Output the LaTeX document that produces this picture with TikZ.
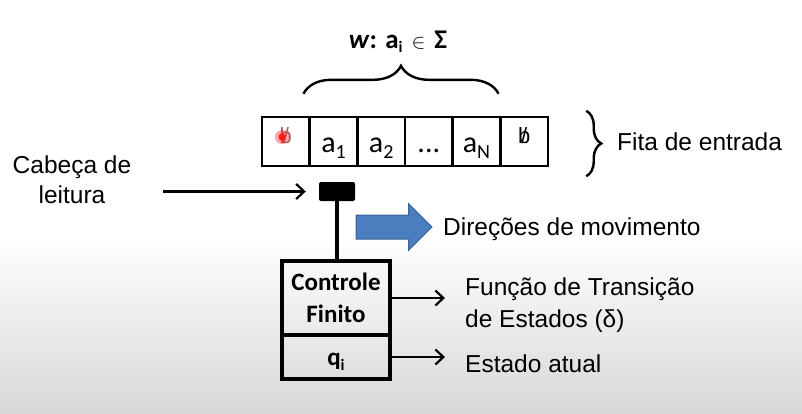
\documentclass[tikz,border=0pt]{standalone}
\usepackage{fontspec}
\setmainfont{Liberation Sans}
\newfontfamily\calfont{Carlito}
\usetikzlibrary{decorations.pathreplacing,shapes.arrows,arrows.meta}
\definecolor{bggray}{RGB}{216,216,216}
\definecolor{arrblue}{RGB}{74,126,190}
\definecolor{arrblueedge}{RGB}{58,98,150}
\definecolor{fadedb}{RGB}{170,100,100}
\newcommand\sbs[1]{\raisebox{-6pt}{\fontsize{20}{20}\selectfont #1}}
\newcommand\blanksym{{\rmfamily\fontsize{22}{22}\selectfont\ooalign{b\cr\hidewidth/\hidewidth\cr}}}
\begin{document}
\begin{tikzpicture}[x=1pt,y=-1pt,
  cell/.style={draw, line width=2.4pt, minimum width=47.7pt, minimum height=49pt, inner sep=0pt,
    text height=21pt, text depth=0pt, font=\calfont\fontsize{30}{30}\selectfont},
  sans/.style={font=\fontsize{24.5}{30}\selectfont, inner sep=0pt, anchor=base west},
  bx/.style={draw, line width=3.3pt, minimum width=108pt, inner sep=0pt},
  bxtxt/.style={font=\calfont\bfseries\fontsize{25}{30}\selectfont, inner sep=0pt, anchor=base},
  arr/.style={line width=2.2pt, -{Straight Barb[length=8pt,width=15pt,line width=2.2pt]}},
  brc/.style={decorate, decoration={brace, amplitude=#1}, line width=2.4pt}
]
\useasboundingbox (0,0) rectangle (802,413);
\fill[white] (0,0) rectangle (802,236);
\shade[top color=white, bottom color=bggray] (0,235) rectangle (802,413);

% tape
\node[cell] (c0) at (285.8,141.5) {\raisebox{9pt}{\color{fadedb}\blanksym}};
\node[cell] (c1) at (333.5,141.5) {a\sbs{1}};
\node[cell] (c2) at (381.2,141.5) {a\sbs{2}};
\node[cell] (c3) at (428.8,141.5) {...};
\node[cell] (c4) at (476.5,141.5) {a\sbs{N}};
\node[cell] (c5) at (524.2,141.5) {\raisebox{9pt}{\blanksym}};
\fill[red, opacity=.35] (282,137) circle (7pt);
\fill[red!90!white] (282,137) circle (3.5pt);

% braces
\draw[brc=28pt] ([xshift=-5pt,yshift=22pt]c1.north west) -- ([xshift=-3pt,yshift=22pt]c4.north east);
\node[font=\calfont\bfseries\fontsize{27}{27}\selectfont, inner sep=0pt, anchor=base] (wlab) at (398,48)
  {\textit{w}: a\raisebox{-4pt}{\fontsize{16}{16}\selectfont i}\hspace{9pt}{\fontsize{22}{22}\selectfont$\in$}\hspace{9pt}Σ};
\draw[brc=15pt] ([xshift=37pt,yshift=5pt]c5.north east) -- ([xshift=37pt,yshift=-9pt]c5.south east);
\node[sans] (fita) at (617,150) {Fita de entrada};

% head
\node[fill=black, rounded corners=2pt, minimum width=36pt, minimum height=19pt, inner sep=0pt] (head) at (337,191.5) {};
\node[sans, anchor=base] (cab1) at (72,173) {Cabeça de};
\node[sans, anchor=base] (cab2) at (72,203) {leitura};
\coordinate (cabtail) at (163,191.5);
\draw[arr, shorten >=13pt] (cabtail) -- (head);

% movement arrow
\node[single arrow, minimum height=76pt, minimum width=46pt, single arrow head extend=11.5pt,
  inner xsep=0pt, inner ysep=11.5pt, fill=arrblue, draw=arrblueedge, line width=1pt] (move) at (388,227) {};
\node[sans] (dir) at (443,235) {Direções de movimento};

% control
\node[bx, minimum height=74pt] (ctrl) at (336,298) {};
\node[bx, minimum height=44pt] (state) at (336,357) {};
\node[bxtxt] (ctrlA) at (336,290) {Controle};
\node[bxtxt] (ctrlB) at (336,322) {Finito};
\node[bxtxt] (stq) at (336,365) {q\raisebox{-5pt}{\fontsize{16}{16}\selectfont i}};
\draw[line width=4pt] (head.south) -- (head.south |- ctrl.north);

\coordinate (f1) at (445,298);
\coordinate (f2) at (445,357);
\draw[arr] (ctrl.east) -- (f1);
\draw[arr] (state.east) -- (f2);
\node[sans] (func1) at (465,295) {Função de Transição};
\node[sans] (func2) at (465,327) {de Estados (δ)};
\node[sans] (est) at (465,372) {Estado atual};
\end{tikzpicture}
\end{document}
